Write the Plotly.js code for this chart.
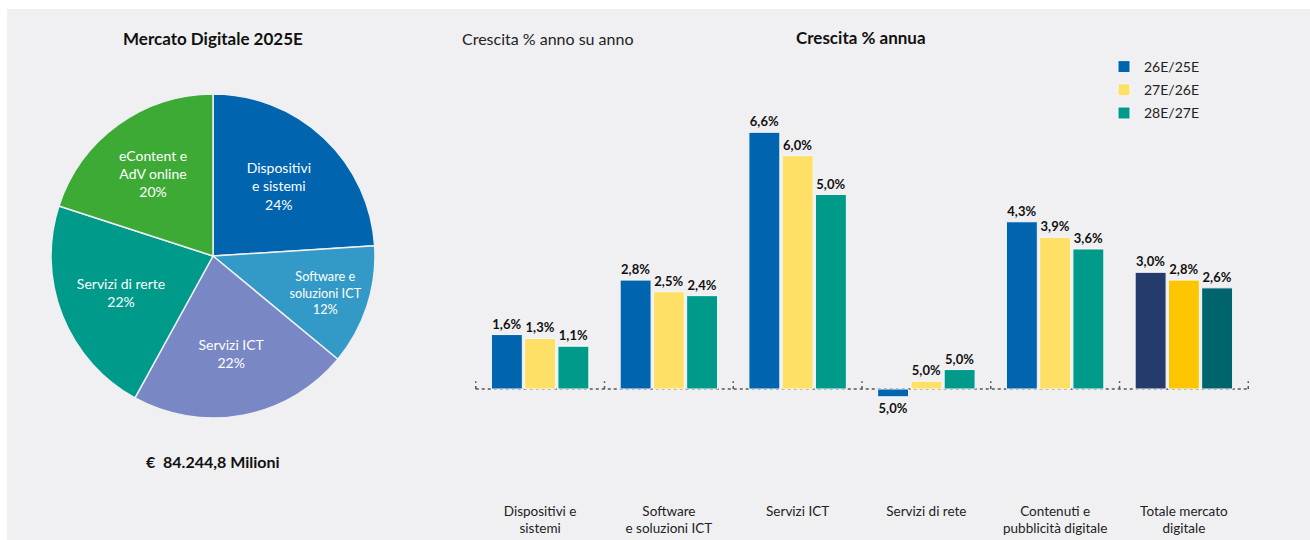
<!DOCTYPE html>
<html>
<head>
<meta charset="utf-8">
<script src="https://cdn.plot.ly/plotly-3.0.1.min.js"></script>
<style>html,body{margin:0;padding:0;background:#fff;}#chart{width:1310px;height:540px;}</style>
</head>
<body>
<div id="chart"></div>
<script>
// Pie: market shares 2025E
const pieLabels = ["Dispositivi<br>e sistemi", "Software e<br>soluzioni ICT", "Servizi ICT", "Servizi di rerte", "eContent e<br>AdV online"];
const pieValues = [24, 12, 22, 22, 20];
const pieColors = ["#0065ae", "#3399c7", "#7987c4", "#009a8b", "#3eaa36"];

// Bars: yearly growth %
const categories = ["Dispositivi e<br>sistemi", "Software<br>e soluzioni ICT", "Servizi ICT", "Servizi di rete", "Contenuti e<br>pubblicità digitale", "Totale mercato<br>digitale"];
const seriesNames = ["26E/25E", "27E/26E", "28E/27E"];
const growth26 = [1.4, 2.8, 6.6, -0.2, 4.3, 3.0];
const growth27 = [1.3, 2.5, 6.0, 0.2, 3.9, 2.8];
const growth28 = [1.1, 2.4, 5.0, 0.5, 3.6, 2.6];
const labels26 = ["1,6%", "2,8%", "6,6%", "5,0%", "4,3%", "3,0%"];
const labels27 = ["1,3%", "2,5%", "6,0%", "5,0%", "3,9%", "2,8%"];
const labels28 = ["1,1%", "2,4%", "5,0%", "5,0%", "3,6%", "2,6%"];
const colors26 = ["#0065ae", "#0065ae", "#0065ae", "#0065ae", "#0065ae", "#253b6b"];
const colors27 = ["#fde065", "#fde065", "#fde065", "#fde065", "#fde065", "#fdc600"];
const colors28 = ["#009a8b", "#009a8b", "#009a8b", "#009a8b", "#009a8b", "#00646c"];

const FONT = "Lato, 'Open Sans', sans-serif";

const W = 1310, H = 540;
const px = x => x / W;
const py = y => (H - y) / H;

function barTrace(name, vals, txt, cols, grp) {
  return {
    type: "bar", name: name, x: categories, y: vals,
    text: txt, texttemplate: "<b>%{text}</b>", textposition: "outside",
    constraintext: "none", cliponaxis: false,
    textfont: {family: FONT, size: 13, color: "#111"},
    marker: {color: cols, line: {color: "#f7f7f9", width: 1}},
    legendgroup: grp, hoverinfo: "skip",
    xaxis: "x", yaxis: "y"
  };
}

const pie = {
  type: "pie", labels: pieLabels, values: pieValues, sort: false, direction: "clockwise",
  rotation: 0,
  marker: {colors: pieColors, line: {color: "#eef0f2", width: 1.5}},
  texttemplate: "%{label}<br>%{percent:.0%}", textposition: "inside",
  insidetextorientation: "horizontal",
  textfont: {family: FONT, size: 14, color: "#ffffff"},
  domain: {x: [px(213 - 162), px(213 + 162)], y: [py(256 + 162), py(256 - 162)]},
  showlegend: false, hoverinfo: "skip"
};

const traces = [
  pie,
  barTrace(seriesNames[0], growth26, labels26, colors26, "g1"),
  barTrace(seriesNames[1], growth27, labels27, colors27, "g2"),
  barTrace(seriesNames[2], growth28, labels28, colors28, "g3")
];

const shapes = [
  {type: "rect", xref: "paper", yref: "paper", x0: px(7), x1: 1, y0: 0, y1: py(9),
   fillcolor: "#f0f0f2", line: {width: 0}, layer: "below"},
  {type: "line", xref: "x", yref: "y", x0: -0.5, x1: 5.5, y0: 0, y1: 0,
   line: {color: "#555", width: 1.5, dash: "dot"}, layer: "below"}
];
for (let i = 0; i <= categories.length; i++) {
  shapes.push({type: "line", xref: "x", yref: "y", x0: i - 0.5, x1: i - 0.5, y0: 0, y1: 0.2,
    line: {color: "#555", width: 1.5, dash: "dot"}, layer: "below"});
}

function ann(text, x, y, size, color) {
  return {text: text, xref: "paper", yref: "paper", x: px(x), y: py(y),
          xanchor: "center", yanchor: "middle", showarrow: false,
          font: {family: FONT, size: size, color: color}};
}

const layout = {
  width: W, height: H,
  margin: {l: 0, r: 0, t: 0, b: 0},
  paper_bgcolor: "#ffffff", plot_bgcolor: "rgba(0,0,0,0)",
  font: {family: FONT, color: "#222"},
  barmode: "group", bargap: 0.225, bargroupgap: 0.07,
  xaxis: {domain: [px(475), px(1249)], showgrid: false, zeroline: false, showline: false,
          ticks: "", ticklabelstandoff: 6,
          tickfont: {family: FONT, size: 13.5, color: "#222"}, fixedrange: true},
  yaxis: {domain: [py(495), py(100)], range: [-2.725, 7.43], showgrid: false, zeroline: false,
          showline: false, showticklabels: false, ticks: "", fixedrange: true},
  showlegend: true,
  legend: {x: px(1104), y: py(51), xanchor: "left", yanchor: "top", bgcolor: "rgba(0,0,0,0)",
           font: {family: FONT, size: 14, color: "#222"}, tracegroupgap: 2, traceorder: "grouped"},
  shapes: shapes,
  annotations: [
    ann("<b>Mercato Digitale 2025E</b>", 213, 38, 17, "#111"),
    ann("<b>€  84.244,8 Milioni</b>", 213, 461, 16, "#111"),
    ann("Crescita % anno su anno", 548, 38, 16, "#222"),
    ann("<b>Crescita % annua</b>", 861, 37, 17, "#111")
  ]
};

Plotly.newPlot("chart", traces, layout, {displayModeBar: false, staticPlot: true});
</script>
</body>
</html>
